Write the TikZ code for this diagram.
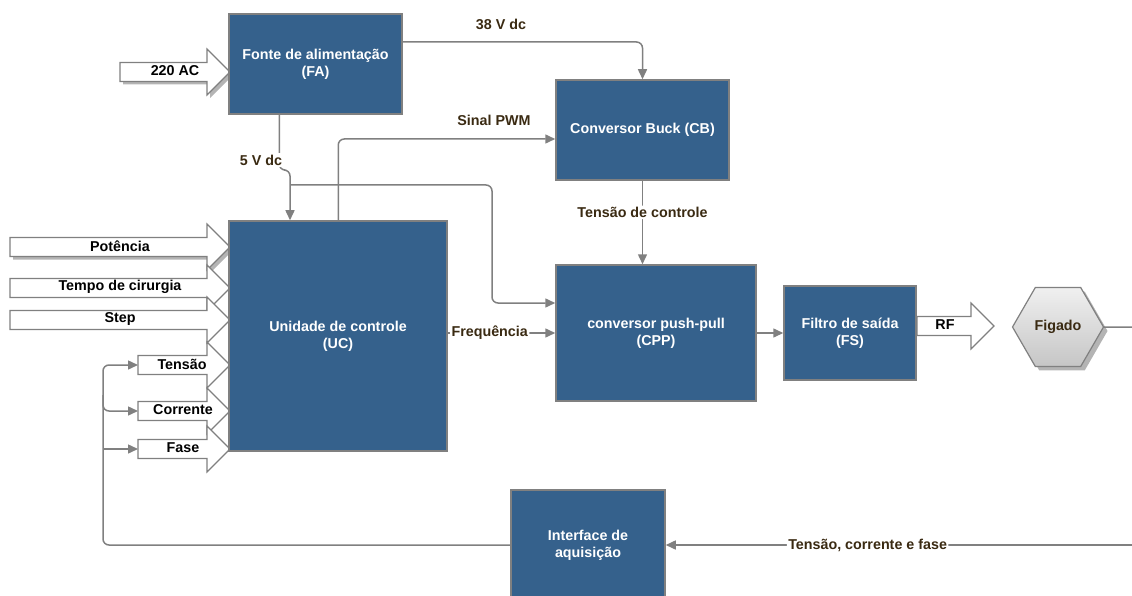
\documentclass[tikz,border=0pt]{standalone}
\usepackage{fontspec}
\setmainfont{Liberation Sans}
\usetikzlibrary{arrows.meta,shapes.geometric,shadows}
\definecolor{boxblue}{HTML}{35618C}
\definecolor{edgegray}{HTML}{808080}
\definecolor{lblbrown}{HTML}{3A2A12}
\definecolor{shadegray}{HTML}{B4B4B4}

% outline of a wide block arrow: tail x, tip x, centre y
\newcommand\arrowshape[4][]{%
  \path[#1] (#2,#4-9.5) -- (#3-23,#4-9.5) -- (#3-23,#4-23) -- (#3,#4)
    -- (#3-23,#4+23) -- (#3-23,#4+9.5) -- (#2,#4+9.5) -- cycle;}

\begin{document}
\begin{tikzpicture}[x=1pt,y=-1pt,
  txt/.style={font=\bfseries\fontsize{14.3}{17}\selectfont},
  blk/.style={txt, draw=edgegray, line width=1.5pt, fill=boxblue, text=white,
    align=center, inner sep=0pt},
  inbox/.style={draw=edgegray, line width=1.2pt, fill=white},
  inshadow/.style={fill=shadegray, shift={(3,3)}},
  arrowtxt/.style={txt, text=black, inner sep=1pt},
  lbl/.style={txt, text=lblbrown, inner sep=1.5pt},
  onlbl/.style={lbl, fill=white},
  conn/.style={draw=edgegray, line width=1.5pt, rounded corners=6pt,
    -{Triangle[length=10pt,width=9pt]}},
  wire/.style={draw=edgegray, line width=1.5pt, rounded corners=6pt},
]
\useasboundingbox (0,0) rectangle (1132,596);

% ---- external inputs ----
\arrowshape[inshadow]{120}{230}{72}
\arrowshape[inbox]{120}{230}{72}
\node[arrowtxt] (ac) at (175,71) {220 AC};

\arrowshape[inshadow]{10}{230}{247}
\arrowshape[inbox]{10}{230}{247}
\node[arrowtxt] (pot) at (120,246) {Potência};

\arrowshape[inbox]{10}{230}{288}
\node[arrowtxt] (tempo) at (120,287) {Tempo de cirurgia};

\arrowshape[inbox]{10}{230}{320}
\node[arrowtxt] (step) at (120,319) {Step};

\arrowshape[inbox]{138}{230}{365}
\node[arrowtxt] (ten) at (182,364) {Tensão};

\arrowshape[inbox]{138}{230}{411}
\node[arrowtxt] (cor) at (183,410) {Corrente};

\arrowshape[inbox]{138}{230}{449}
\node[arrowtxt] (fase) at (183,448) {Fase};

% ---- functional blocks ----
\node[blk, minimum width=173, minimum height=100] (FA) at (315.5,64)
  {Fonte de alimentação\\(FA)};
\node[blk, minimum width=173, minimum height=100] (CB) at (642.5,130)
  {Conversor Buck (CB)};
\node[blk, minimum width=218, minimum height=230] (UC) at (338,336)
  {Unidade de controle\\(UC)};
\node[blk, minimum width=200, minimum height=136] (CPP) at (656,333)
  {conversor push-pull\\(CPP)};
\node[blk, minimum width=132, minimum height=94] (FS) at (850,333)
  {Filtro de saída\\(FS)};
\node[blk, minimum width=154, minimum height=110] (IA) at (588,545)
  {Interface de\\aquisição};

% ---- RF output and load ----
\arrowshape[inbox]{917}{994}{326}
\node[arrowtxt] (rf) at (945,325) {RF};

\node[txt, text=lblbrown, regular polygon, regular polygon sides=6,
  minimum size=91, draw=edgegray, line width=1.2pt,
  top color=gray!12, bottom color=gray!45,
  drop shadow={shadow xshift=4pt, shadow yshift=-4pt, fill=shadegray, opacity=1}]
  (fig) at (1058,327) {Figado};

% ---- connectors ----
\coordinate (bend5) at (290,170);
\coordinate (split5) at (290,185);
\coordinate (turn5) at (492,185);
\coordinate (fbtop) at (103,365);
\coordinate (fbcor) at (103,395);
\coordinate (fbfase) at (103,449);
\coordinate (tenT) at (138,365);
\coordinate (corT) at (138,411);
\coordinate (faseT) at (138,449);
\coordinate (loadout) at (1132,327);
\coordinate (measin) at (1132,545);

\draw[conn] ([yshift=22pt]FA.east) -| (CB.north);
\node[lbl] (l38) at (501,24) {38 V dc};

\draw[conn] ([xshift=51pt]FA.south west) |- (bend5) -- (bend5 |- UC.north);
\node[onlbl] (l5) at (261,160) {5 V dc};

\draw[conn] (split5) -- (turn5) |- ([yshift=30pt]CPP.west);

\draw[conn] ([xshift=110pt]UC.north west) |- ([yshift=-9pt]CB.west);
\node[lbl] (lpwm) at (494,120) {Sinal PWM};

\draw[conn] (CB.south) -- (CB.south |- CPP.north)
  node[onlbl, pos=0.38] {Tensão de controle};

\draw[conn] (UC.east |- CPP.west) -- (CPP.west)
  node[onlbl, pos=0.39] {Frequência};

\draw[conn] (CPP.east) -- (FS.west);

\draw[wire] (fig.east) -- (loadout);

\draw[conn] (measin) -- (IA.east)
  node[onlbl, pos=0.567] {Tensão, corrente e fase};

\draw[conn] (IA.west) -| (fbtop) -- (tenT);
\draw[conn] (fbcor) |- (corT);
\draw[conn] (fbfase) -- (faseT);
\end{tikzpicture}
\end{document}
